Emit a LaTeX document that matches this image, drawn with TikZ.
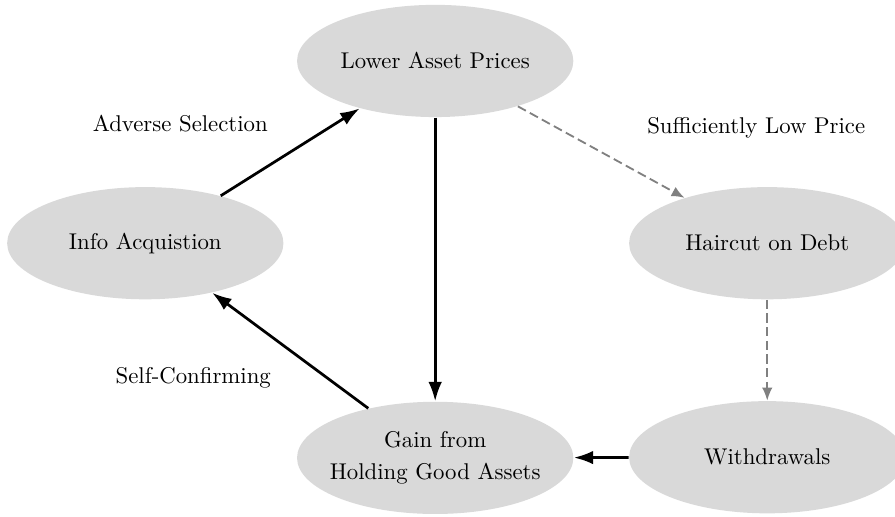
\documentclass[tikz,border=0pt]{standalone}
\usepackage{tikz,amsmath}
\usetikzlibrary{positioning,shapes.geometric,arrows.meta}

\tikzset{
    bubble/.style={ellipse, fill=gray!30, minimum width=4.26cm, minimum height=1.73cm, inner sep=0pt, align=center},
    loop/.style={-{Latex[length=3mm,width=2.1mm]}, very thick, black},
    spill/.style={-{Latex[length=2mm,width=1.6mm]}, thick, gray, dash pattern=on 4pt off 2pt}
}

\begin{document}
\begin{tikzpicture}
    \useasboundingbox (0,0) rectangle (13.80,-7.97);
    \node[bubble] (prices) at (6.71,-0.94) {Lower Asset Prices};
    \node[bubble] (info) at (2.24,-3.75) {Info Acquistion};
    \node[bubble] (haircut) at (11.83,-3.75) {Haircut on Debt};
    \node[bubble] (withdraw) at (11.83,-7.05) {Withdrawals};
    \node[bubble, inner xsep=-0.15cm] (gain) at (6.71,-7.06) {Gain from\\[2pt]Holding Good Assets};
    \node (adverse) at (2.78,-1.91) {Adverse Selection};
    \node (lowprice) at (11.66,-1.97) {Sufficiently Low Price};
    \node (confirm) at (2.98,-5.83) {Self-Confirming};
    \draw[loop] (info) -- (prices);
    \draw[loop] (prices) -- (gain);
    \draw[loop] (gain) -- (info);
    \draw[loop] (withdraw) -- (gain);
    \draw[spill] (prices) -- (haircut);
    \draw[spill] (haircut) -- (withdraw);
\end{tikzpicture}
\end{document}
